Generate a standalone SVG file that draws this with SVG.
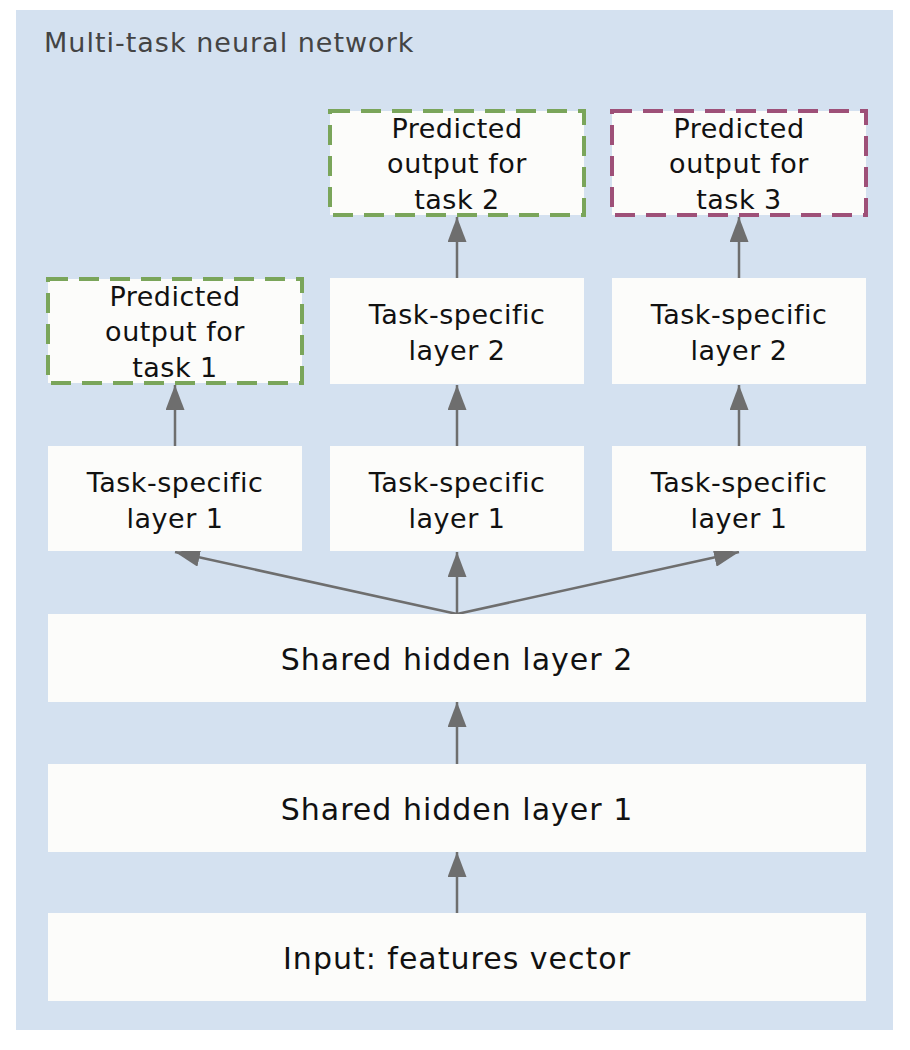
<svg xmlns="http://www.w3.org/2000/svg" width="910" height="1050" viewBox="0 0 910 1050">
<defs>
<style>
.node{fill:#fcfcfa;}
.g{fill:#fcfcfa;stroke:#7aa55a;stroke-width:4;stroke-dasharray:20 11;}
.p{fill:#fcfcfa;stroke:#9e5078;stroke-width:4;stroke-dasharray:20 11;}
.t{font-family:"DejaVu Sans","Liberation Sans",sans-serif;font-size:27px;fill:#111;text-anchor:middle;letter-spacing:0.5px;}
.tl{font-family:"DejaVu Sans","Liberation Sans",sans-serif;font-size:30px;fill:#111;text-anchor:middle;letter-spacing:1px;}
.c{stroke:#6e6e6e;stroke-width:2.5;fill:none;marker-end:url(#ah);}
</style>
<marker id="ah" viewBox="0 0 25 19" refX="25" refY="9.5" markerWidth="25" markerHeight="19" markerUnits="userSpaceOnUse" orient="auto">
<path d="M0,0 L25,9.5 L0,19 z" fill="#6e6e6e"/>
</marker>
</defs>
<rect x="16" y="10" width="877" height="1020" fill="#d4e1f0"/>
<text x="44" y="52" font-family="'DejaVu Sans','Liberation Sans',sans-serif" font-size="27" fill="#444" letter-spacing="1">Multi-task neural network</text>

<g id="connectors">
<line class="c" x1="457" y1="913" x2="457" y2="852"/>
<line class="c" x1="457" y1="764" x2="457" y2="702"/>
<line class="c" x1="457" y1="614" x2="457" y2="552"/>
<line class="c" x1="457" y1="614" x2="175" y2="552"/>
<line class="c" x1="457" y1="614" x2="739" y2="552"/>
<line class="c" x1="175" y1="446" x2="175" y2="385"/>
<line class="c" x1="457" y1="446" x2="457" y2="385"/>
<line class="c" x1="739" y1="446" x2="739" y2="385"/>
<line class="c" x1="457" y1="278" x2="457" y2="217"/>
<line class="c" x1="739" y1="278" x2="739" y2="217"/>
</g>

<g id="input">
<rect class="node" x="48" y="913" width="818" height="88"/>
<text class="tl" x="457" y="969">Input: features vector</text>
</g>
<g id="shared1">
<rect class="node" x="48" y="764" width="818" height="88"/>
<text class="tl" x="457" y="820">Shared hidden layer 1</text>
</g>
<g id="shared2">
<rect class="node" x="48" y="614" width="818" height="88"/>
<text class="tl" x="457" y="670">Shared hidden layer 2</text>
</g>

<g id="t1l1">
<rect class="node" x="48" y="446" width="254" height="105"/>
<text class="t" x="175" y="492">Task-specific</text>
<text class="t" x="175" y="527.5">layer 1</text>
</g>
<g id="t2l1">
<rect class="node" x="330" y="446" width="254" height="105"/>
<text class="t" x="457" y="492">Task-specific</text>
<text class="t" x="457" y="527.5">layer 1</text>
</g>
<g id="t3l1">
<rect class="node" x="612" y="446" width="254" height="105"/>
<text class="t" x="739" y="492">Task-specific</text>
<text class="t" x="739" y="527.5">layer 1</text>
</g>

<g id="out1">
<rect class="g" x="48" y="279" width="254" height="104"/>
<text class="t" x="175" y="306">Predicted</text>
<text class="t" x="175" y="341">output for</text>
<text class="t" x="175" y="376.5">task 1</text>
</g>
<g id="t2l2">
<rect class="node" x="330" y="278" width="254" height="106"/>
<text class="t" x="457" y="324">Task-specific</text>
<text class="t" x="457" y="359.5">layer 2</text>
</g>
<g id="t3l2">
<rect class="node" x="612" y="278" width="254" height="106"/>
<text class="t" x="739" y="324">Task-specific</text>
<text class="t" x="739" y="359.5">layer 2</text>
</g>

<g id="out2">
<rect class="g" x="330" y="111" width="254" height="104"/>
<text class="t" x="457" y="138">Predicted</text>
<text class="t" x="457" y="173">output for</text>
<text class="t" x="457" y="208.5">task 2</text>
</g>
<g id="out3">
<rect class="p" x="612" y="111" width="254" height="104"/>
<text class="t" x="739" y="138">Predicted</text>
<text class="t" x="739" y="173">output for</text>
<text class="t" x="739" y="208.5">task 3</text>
</g>
</svg>
